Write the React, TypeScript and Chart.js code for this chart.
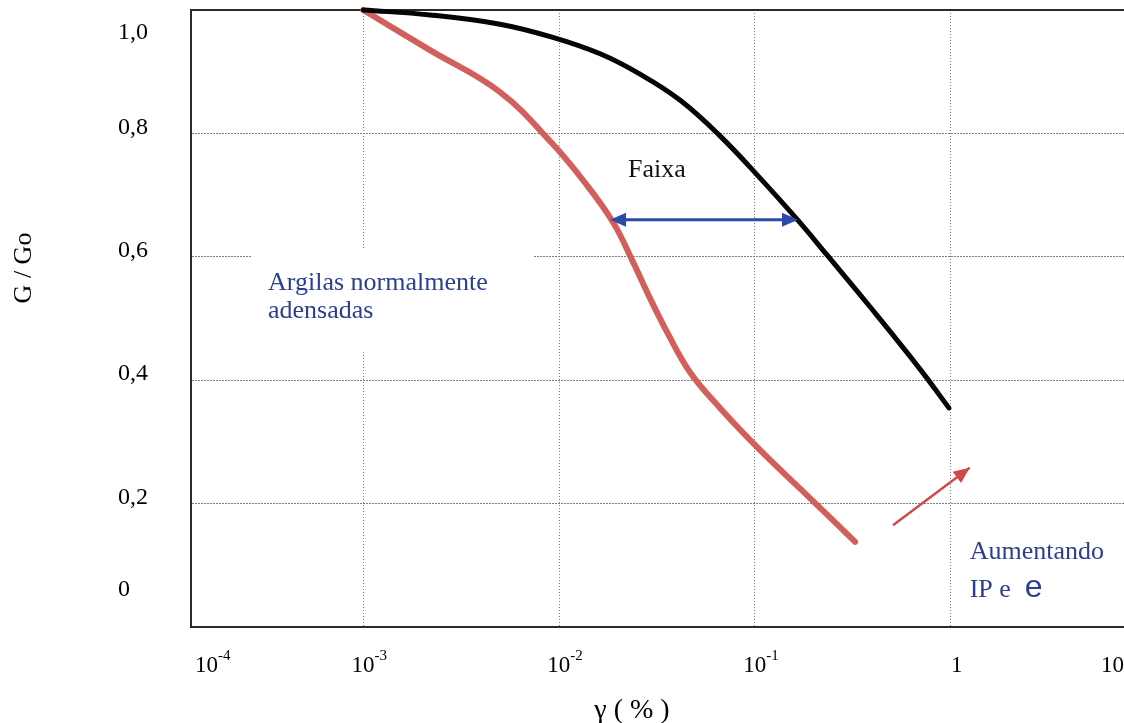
import React, { useEffect, useRef } from 'react';
import { Chart, registerables } from 'chart.js';

Chart.register(...registerables);

// ---------- data ----------
const strainUpper = [0.001, 0.00219, 0.00499, 0.0092, 0.0162, 0.0259, 0.0414, 0.0663, 0.106, 0.164, 0.2334, 0.387, 0.697, 0.98];
const modulusUpper = [1.0, 0.992, 0.977, 0.956, 0.929, 0.896, 0.854, 0.796, 0.728, 0.661, 0.603, 0.519, 0.418, 0.355];

const strainLower = [0.001, 0.00219, 0.00499, 0.0092, 0.01356, 0.01885, 0.02357, 0.0291, 0.036, 0.0466, 0.0663, 0.106, 0.191, 0.325];
const modulusLower = [1.0, 0.935, 0.867, 0.784, 0.72, 0.656, 0.595, 0.533, 0.475, 0.413, 0.355, 0.287, 0.209, 0.138];

const rangeArrowStrain = [0.0182, 0.166];
const rangeArrowModulus = [0.66, 0.66];

const trendArrowStrain = [0.507, 1.25];
const trendArrowModulus = [0.165, 0.258];

const xGridValues = [1e-3, 1e-2, 1e-1, 1];
const yGridValues = [0, 0.2, 0.4, 0.6, 0.8, 1];

const xTickValues = [1e-4, 1e-3, 1e-2, 1e-1, 1, 10];
const xTickBases = ['10', '10', '10', '10', '1', '10'];
const xTickExps = ['-4', '-3', '-2', '-1', '', ''];

const yTickValues = [1, 0.8, 0.6, 0.4, 0.2, 0];
const yTickLabels = ['1,0', '0,8', '0,6', '0,4', '0,2', '0'];

const X_MIN = Math.pow(10, -3.88);
const X_MAX = Math.pow(10, 0.885);

// annotation anchors (data coordinates)
const noteRange = { text: 'Faixa', x: 0.0316, y: 0.729 };
const noteClay = { lines: ['Argilas normalmente', 'adensadas'], x: 0.000326, y: 0.546 };
const noteTrend = { line1: 'Aumentando', line2: 'IP e', big: 'e', x: 1.25, y: 0.11 };

const SERIF = '"Liberation Serif", "Times New Roman", serif';
const SANS = '"Liberation Sans", Arial, sans-serif';
const BLUE_TEXT = '#2c3f8e';
const GRID = '#7e7e7e';
const AXIS = '#2a2a2a';

const zip = (xs: number[], ys: number[]) => xs.map((x, i) => ({ x, y: ys[i] }));

function drawHead(ctx: CanvasRenderingContext2D, tx: number, ty: number, fx: number, fy: number, len: number, half: number, color: string) {
  const a = Math.atan2(ty - fy, tx - fx);
  const bx = tx - len * Math.cos(a);
  const by = ty - len * Math.sin(a);
  ctx.save();
  ctx.fillStyle = color;
  ctx.beginPath();
  ctx.moveTo(tx, ty);
  ctx.lineTo(bx + half * Math.sin(a), by - half * Math.cos(a));
  ctx.lineTo(bx - half * Math.sin(a), by + half * Math.cos(a));
  ctx.closePath();
  ctx.fill();
  ctx.restore();
}

const decorPlugin = {
  id: 'decor',
  beforeDatasetsDraw(chart: any) {
    const { ctx, scales } = chart;
    const left = scales.x.getPixelForValue(noteClay.x);
    const base = scales.y.getPixelForValue(noteClay.y);
    ctx.save();
    ctx.fillStyle = '#ffffff';
    ctx.fillRect(left - 16, base - 40, 281, 102);
    ctx.restore();
  },
  afterDatasetsDraw(chart: any) {
    const { ctx } = chart;
    chart.data.datasets.forEach((ds: any, i: number) => {
      if (!ds.arrowEnd && !ds.arrowStart) return;
      const pts = chart.getDatasetMeta(i).data;
      const n = pts.length;
      if (ds.arrowEnd) drawHead(ctx, pts[n - 1].x, pts[n - 1].y, pts[n - 2].x, pts[n - 2].y, ds.headLen, ds.headHalf, ds.borderColor);
      if (ds.arrowStart) drawHead(ctx, pts[0].x, pts[0].y, pts[1].x, pts[1].y, ds.headLen, ds.headHalf, ds.borderColor);
    });
  },
  afterDraw(chart: any) {
    const { ctx, chartArea, scales } = chart;
    const xs = scales.x;
    const ys = scales.y;
    ctx.save();
    ctx.fillStyle = '#000';
    ctx.textBaseline = 'alphabetic';
    // x tick labels
    xTickValues.forEach((v, i) => {
      ctx.font = `23px ${SERIF}`;
      const wb = ctx.measureText(xTickBases[i]).width;
      ctx.font = `15px ${SERIF}`;
      const we = xTickExps[i] ? ctx.measureText(xTickExps[i]).width : 0;
      const w = wb + we;
      const px = xs.getPixelForValue(v) + 6;
      let sx = px - w / 2;
      if (sx < chartArea.left) sx = chartArea.left + 4;
      if (sx + w > chartArea.right) sx = chartArea.right - w;
      ctx.font = `23px ${SERIF}`;
      ctx.textAlign = 'left';
      ctx.fillText(xTickBases[i], sx, 672);
      if (xTickExps[i]) {
        ctx.font = `15px ${SERIF}`;
        ctx.fillText(xTickExps[i], sx + wb, 660);
      }
    });
    // y tick labels
    ctx.font = `24px ${SERIF}`;
    ctx.textAlign = 'left';
    ctx.textBaseline = 'middle';
    yTickValues.forEach((v, i) => {
      let py = ys.getPixelForValue(v) - 6;
      py = Math.max(chartArea.top + 23, Math.min(chartArea.bottom - 37, py));
      ctx.fillText(yTickLabels[i], 118, py);
    });
    // axis titles
    ctx.font = `28px ${SERIF}`;
    ctx.textAlign = 'center';
    ctx.fillText('γ ( % )', 632, 711);
    ctx.font = `26px ${SERIF}`;
    ctx.save();
    ctx.translate(24, 268);
    ctx.rotate(-Math.PI / 2);
    ctx.fillText('G / Go', 0, 0);
    ctx.restore();
    // annotations
    ctx.textBaseline = 'alphabetic';
    ctx.font = `26px ${SERIF}`;
    ctx.textAlign = 'center';
    ctx.fillStyle = '#111';
    ctx.fillText(noteRange.text, xs.getPixelForValue(noteRange.x), ys.getPixelForValue(noteRange.y));

    ctx.textAlign = 'left';
    ctx.fillStyle = BLUE_TEXT;
    const cx = xs.getPixelForValue(noteClay.x);
    const cy = ys.getPixelForValue(noteClay.y);
    noteClay.lines.forEach((t, i) => ctx.fillText(t, cx, cy + i * 28));

    const tx = xs.getPixelForValue(noteTrend.x);
    const ty = ys.getPixelForValue(noteTrend.y);
    ctx.fillText(noteTrend.line1, tx, ty);
    ctx.fillText(noteTrend.line2, tx, ty + 38);
    const w2 = ctx.measureText(noteTrend.line2).width;
    ctx.font = `32px ${SANS}`;
    ctx.fillText(noteTrend.big, tx + w2 + 14, ty + 38);
    ctx.restore();
  },
};

export default function App() {
  const ref = useRef<HTMLCanvasElement>(null);
  useEffect(() => {
    const canvas = ref.current!;
    const chart = new Chart(canvas, {
      type: 'line',
      data: {
        datasets: [
          {
            label: 'upper',
            data: zip(strainUpper, modulusUpper),
            borderColor: '#050505',
            borderWidth: 5,
            pointRadius: 0,
            tension: 0.4,
            borderCapStyle: 'round',
            borderJoinStyle: 'round',
            clip: false,
          } as any,
          {
            label: 'lower',
            data: zip(strainLower, modulusLower),
            borderColor: '#d35f5d',
            borderWidth: 6,
            pointRadius: 0,
            tension: 0.4,
            borderCapStyle: 'round',
            borderJoinStyle: 'round',
            clip: false,
          } as any,
          {
            label: 'range',
            data: zip(rangeArrowStrain, rangeArrowModulus),
            borderColor: '#2c4aa6',
            borderWidth: 3,
            pointRadius: 0,
            arrowStart: true,
            arrowEnd: true,
            headLen: 16,
            headHalf: 7,
            clip: false,
          } as any,
          {
            label: 'trend',
            data: zip(trendArrowStrain, trendArrowModulus),
            borderColor: '#d04a4c',
            borderWidth: 2.5,
            pointRadius: 0,
            arrowEnd: true,
            headLen: 16,
            headHalf: 7,
            clip: false,
          } as any,
        ],
      },
      options: {
        responsive: false,
        animation: false,
        events: [],
        layout: { padding: { left: 191, right: 0, top: 10, bottom: 96 } },
        plugins: { legend: { display: false }, tooltip: { enabled: false } },
        scales: {
          x: {
            type: 'logarithmic',
            position: 'bottom',
            min: X_MIN,
            max: X_MAX,
            afterBuildTicks: (s: any) => { s.ticks = xGridValues.map((v) => ({ value: v })); },
            afterFit: (s: any) => { s.height = 0; },
            ticks: { display: false },
            grid: { color: GRID, lineWidth: 1, drawTicks: false },
            border: { display: true, color: AXIS, width: 2, dash: [1, 2] },
          },
          xTop: {
            type: 'linear',
            position: 'top',
            min: 0,
            max: 1,
            afterFit: (s: any) => { s.height = 0; },
            ticks: { display: false },
            grid: { display: false, drawTicks: false },
            border: { display: true, color: AXIS, width: 2 },
          },
          y: {
            type: 'linear',
            min: 0,
            max: 1,
            afterBuildTicks: (s: any) => { s.ticks = yGridValues.map((v) => ({ value: v })); },
            afterFit: (s: any) => { s.width = 0; },
            ticks: { display: false },
            grid: { color: GRID, lineWidth: 1, drawTicks: false },
            border: { display: true, color: AXIS, width: 2, dash: [2, 1] },
          },
        },
      } as any,
      plugins: [decorPlugin as any],
    });
    return () => chart.destroy();
  }, []);

  return (
    <div style={{ position: 'absolute', left: 0, top: 0, width: 1124, height: 723, overflow: 'hidden', background: '#ffffff' }}>
      <canvas ref={ref} width={1124} height={723} style={{ display: 'block', width: 1124, height: 723 }} />
    </div>
  );
}
